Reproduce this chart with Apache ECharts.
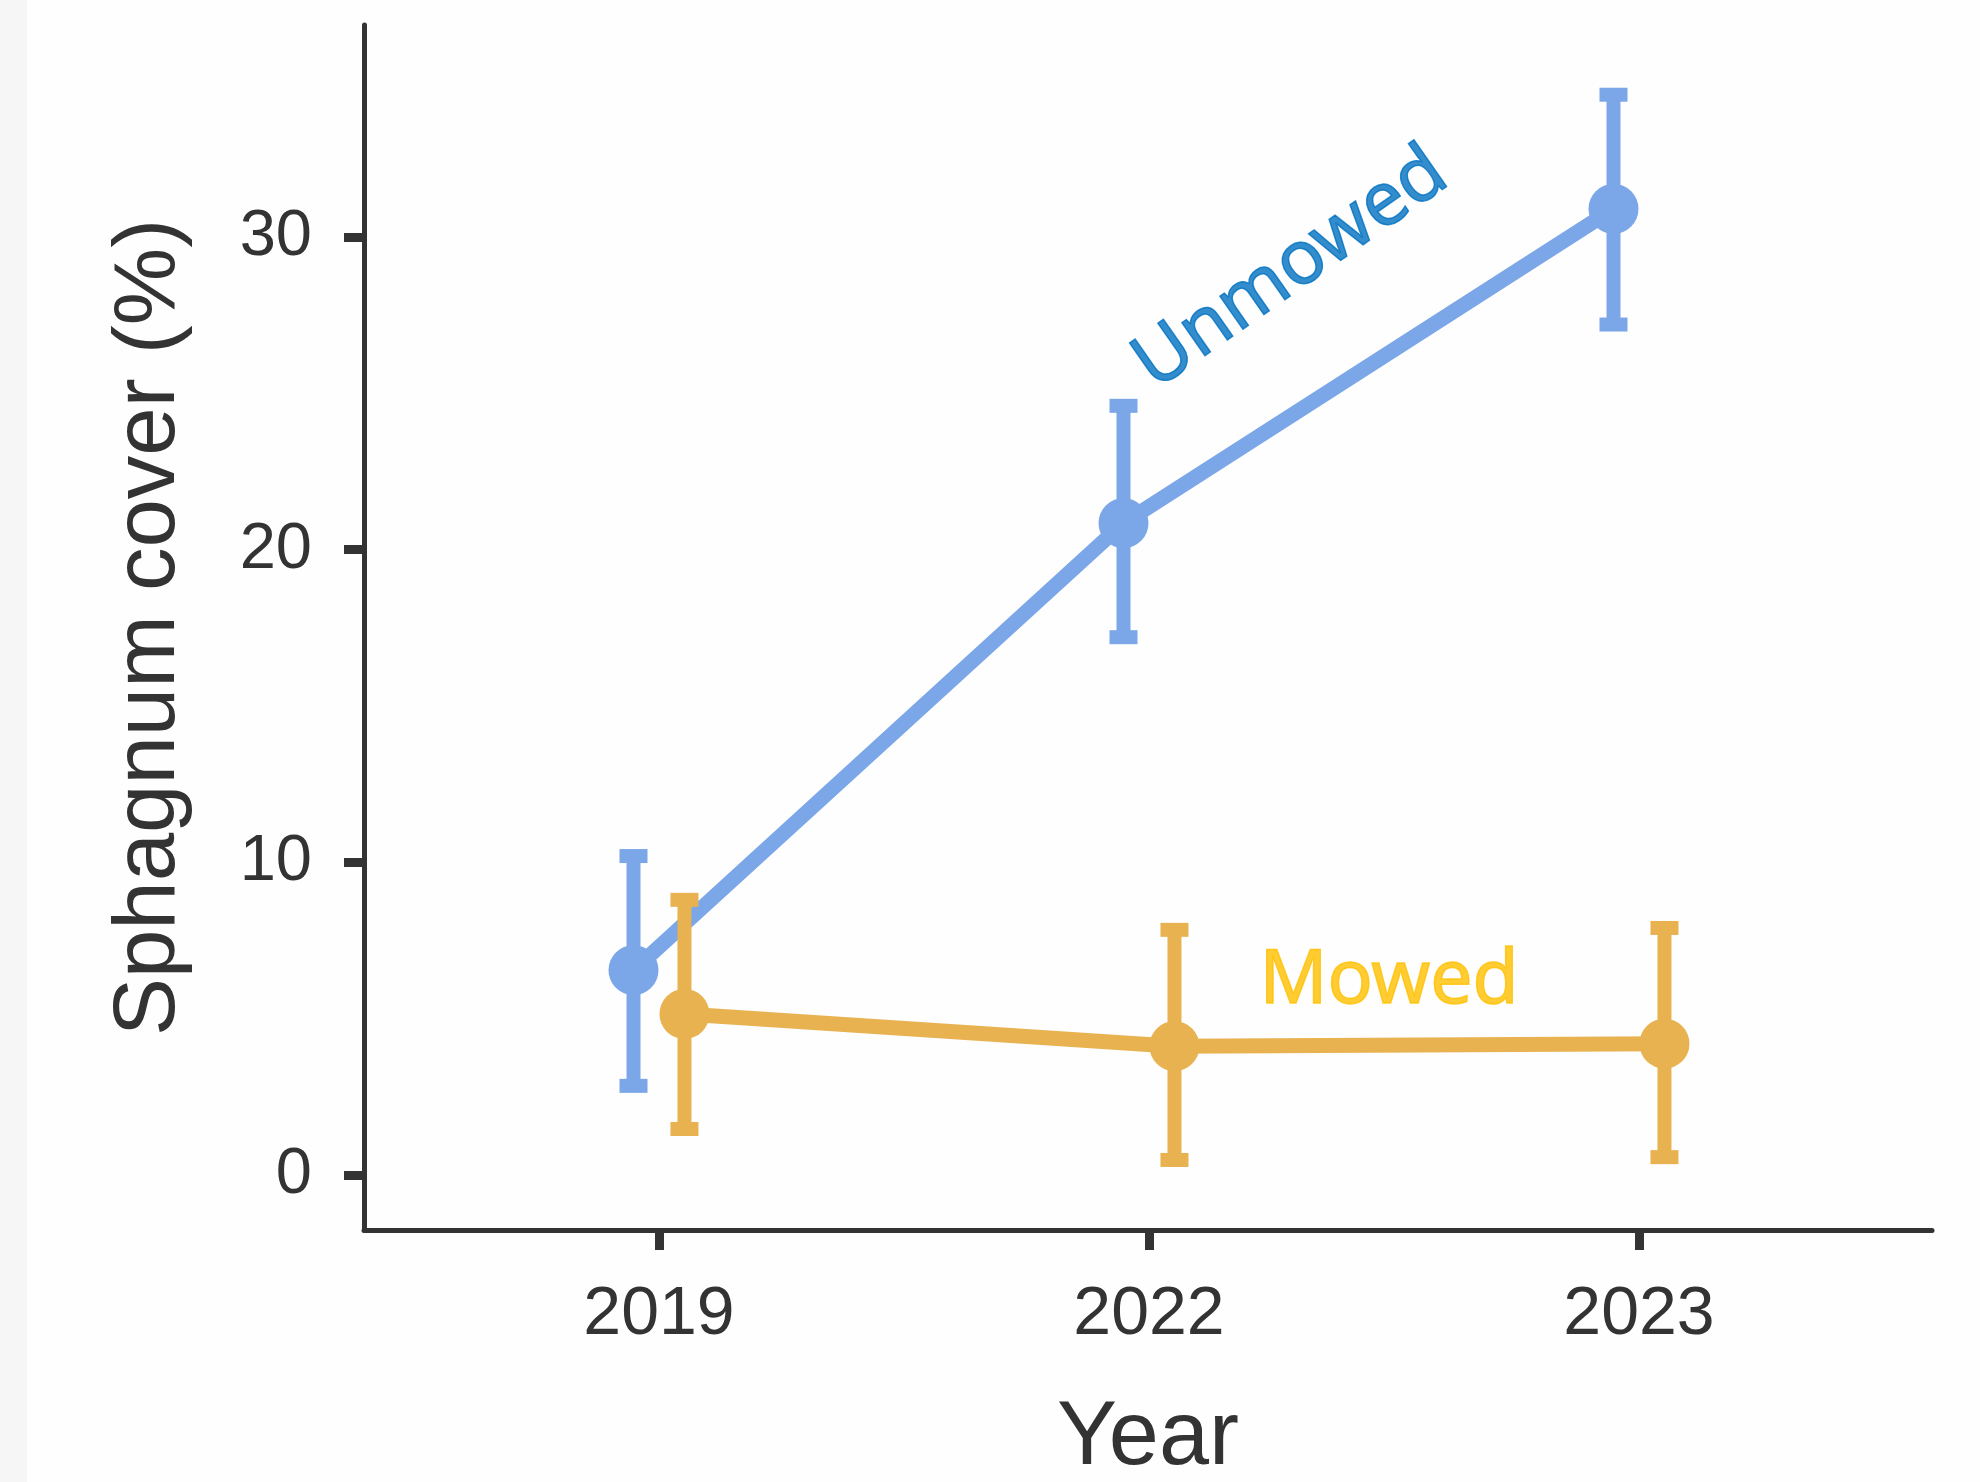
<!DOCTYPE html>
<html>
<head>
<meta charset="utf-8">
<script src="https://cdn.jsdelivr.net/npm/echarts@6/dist/echarts.min.js"></script>
<style>
  html, body { margin: 0; padding: 0; background: #fefefe; }
  #chart { width: 1980px; height: 1482px; }
</style>
</head>
<body>
<div id="chart"></div>
<script>
// ---- data ----
const years = ['2019', '2022', '2023'];
const yTicks = [0, 10, 20, 30];

const unmowedMean = [6.55, 20.85, 30.9];
const unmowedLow  = [2.85, 17.2, 27.2];
const unmowedHigh = [10.2, 24.6, 34.55];

const mowedMean = [5.15, 4.12, 4.2];
const mowedLow  = [1.47, 0.48, 0.57];
const mowedHigh = [8.8, 7.84, 7.9];

const labelNames = ['Unmowed', 'Mowed'];
const labelPosX = [1.29, 1.49];
const labelPosY = [28.97, 6.17];

// ---- styles ----
const BLUE = '#7BA7E8';
const ORANGE = '#E8B251';
const DODGE = 0.052;
const AXIS = '#333333';
const FONT = '"Liberation Sans", Arial, sans-serif';

function pts(mean, off) {
  return mean.map((v, i) => [i + off, v]);
}
function errs(lo, hi, off) {
  return lo.map((v, i) => [i + off, v, hi[i]]);
}
function renderErr(color) {
  return function (params, api) {
    const x = api.value(0);
    const pLo = api.coord([x, api.value(1)]);
    const pHi = api.coord([x, api.value(2)]);
    const sw = 14, cw = 28, ch = 14;
    return {
      type: 'group',
      children: [
        { type: 'rect', shape: { x: pLo[0] - sw / 2, y: pHi[1], width: sw, height: pLo[1] - pHi[1] }, style: { fill: color } },
        { type: 'rect', shape: { x: pHi[0] - cw / 2, y: pHi[1] - ch / 2, width: cw, height: ch }, style: { fill: color } },
        { type: 'rect', shape: { x: pLo[0] - cw / 2, y: pLo[1] - ch / 2, width: cw, height: ch }, style: { fill: color } }
      ]
    };
  };
}

const chart = echarts.init(document.getElementById('chart'), null, { renderer: 'canvas' });
chart.setOption({
  backgroundColor: '#fefefe',
  animation: false,
  graphic: [{
    type: 'rect', left: 0, top: 0, z: -10,
    shape: { width: 27, height: 1482 },
    style: { fill: '#f6f6f6' }
  }],
  grid: { left: 364, right: 48, top: 25, bottom: 252, outerBoundsMode: 'none', containLabel: false },
  xAxis: {
    type: 'value',
    min: -0.602, max: 2.598,
    splitLine: { show: false },
    axisLine: { show: true, onZero: false, lineStyle: { color: AXIS, width: 5 } },
    axisTick: { show: true, length: 20, customValues: [0, 1, 2], lineStyle: { color: AXIS, width: 9 } },
    axisLabel: {
      customValues: [0, 1, 2],
      formatter: v => years[Math.round(v)],
      fontFamily: FONT, fontSize: 68, color: AXIS, margin: 51
    },
    name: 'Year', nameLocation: 'middle', nameGap: 164,
    nameTextStyle: { fontFamily: FONT, fontSize: 90, color: AXIS }
  },
  yAxis: {
    type: 'value',
    min: -1.76, max: 36.78,
    splitLine: { show: false },
    axisLine: { show: true, onZero: false, lineStyle: { color: AXIS, width: 5 } },
    axisTick: { show: true, length: 20, customValues: yTicks, lineStyle: { color: AXIS, width: 9 } },
    axisLabel: {
      customValues: yTicks,
      fontFamily: FONT, fontSize: 65, color: AXIS, margin: 52
    },
    name: 'Sphagnum cover (%)', nameLocation: 'middle', nameGap: 170, nameRotate: 90,
    nameTextStyle: { fontFamily: FONT, fontSize: 87, color: AXIS }
  },
  series: [
    {
      type: 'custom', name: 'UnmowedErr', renderItem: renderErr(BLUE),
      data: errs(unmowedLow, unmowedHigh, -DODGE), z: 2
    },
    {
      type: 'line', name: 'Unmowed', data: pts(unmowedMean, -DODGE),
      symbol: 'circle', symbolSize: 50, showSymbol: true,
      lineStyle: { color: BLUE, width: 15 }, itemStyle: { color: BLUE }, z: 2
    },
    {
      type: 'custom', name: 'MowedErr', renderItem: renderErr(ORANGE),
      data: errs(mowedLow, mowedHigh, DODGE), z: 3
    },
    {
      type: 'line', name: 'Mowed', data: pts(mowedMean, DODGE),
      symbol: 'circle', symbolSize: 50, showSymbol: true,
      lineStyle: { color: ORANGE, width: 15 }, itemStyle: { color: ORANGE }, z: 3
    },
    {
      type: 'scatter', name: 'labels', symbolSize: 0, z: 5,
      data: [
        { value: [labelPosX[0], labelPosY[0]], label: { show: true, formatter: labelNames[0], color: '#0070C0', textBorderColor: '#0070C0', textBorderWidth: 1.5, rotate: 35 } },
        { value: [labelPosX[1], labelPosY[1]], label: { show: true, formatter: labelNames[1], color: '#FFC000', textBorderColor: '#FFC000', textBorderWidth: 1.5, rotate: 0 } }
      ],
      label: { position: 'inside', align: 'center', verticalAlign: 'middle', fontFamily: '"Noto Sans", "Open Sans", sans-serif', fontSize: 75 }
    }
  ]
});
</script>
</body>
</html>
